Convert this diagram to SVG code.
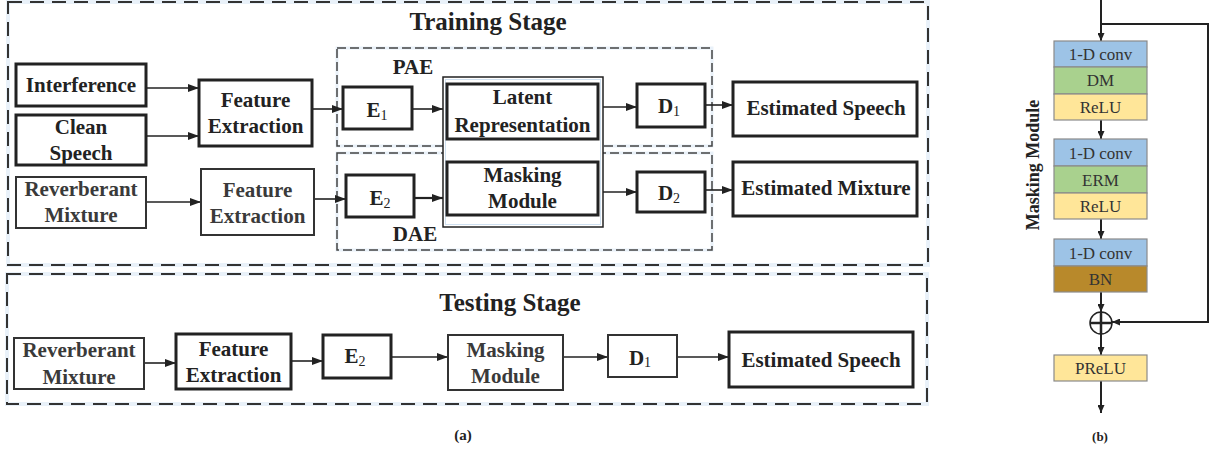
<svg xmlns="http://www.w3.org/2000/svg" width="1213" height="454" viewBox="0 0 1213 454">
<defs>
<marker id="arr" markerUnits="userSpaceOnUse" markerWidth="11" markerHeight="8" refX="11" refY="4" orient="auto"><path d="M0,0 L11,4 L0,8 z" fill="#222"/></marker>
<marker id="arrs" markerUnits="userSpaceOnUse" markerWidth="8" markerHeight="7" refX="8" refY="3.5" orient="auto"><path d="M0,0 L8,3.5 L0,7 z" fill="#222"/></marker>
<style>
.t{font-family:"Liberation Serif","Times New Roman",serif;font-weight:bold;fill:#222;text-anchor:middle}
.n{font-size:21px}
.g{fill:#3a3a3a}
.sub{font-size:14px;font-weight:normal}
.box{fill:#fff;stroke:#222;stroke-width:3}
.box2{fill:#fff;stroke:#333;stroke-width:2}
.glow{fill:none;stroke:#e9f1f9;stroke-width:4}
.dash{fill:none;stroke:#333;stroke-width:2;stroke-dasharray:14 8}
.dash2{fill:none;stroke:#444;stroke-width:1.5;stroke-dasharray:9 4}
.c{fill:none;stroke:#222;stroke-width:1.6}
.cs{fill:none;stroke:#222;stroke-width:2}
.blk{stroke:#8a8a8a;stroke-width:1.2}
.bt{font-family:"Liberation Serif","Times New Roman",serif;font-size:17px;fill:#333;text-anchor:middle}
</style>
</defs>
<rect width="1213" height="454" fill="#fff"/>

<g id="training-stage">
<rect class="glow" x="8" y="2" width="920" height="263"/>
<rect class="dash" x="8" y="2" width="920" height="263"/>
<text class="t" x="488" y="30" font-size="25">Training Stage</text>
</g>
<g id="testing-stage">
<rect class="glow" x="7" y="274" width="920" height="130"/>
<rect class="dash" x="7" y="274" width="920" height="130"/>
<text class="t" x="510" y="311" font-size="25">Testing Stage</text>
</g>
<g id="pae">
<rect class="glow" x="337" y="48" width="375" height="98" style="stroke-width:3"/>
<rect class="dash2" x="337" y="48" width="375" height="98"/>
<text class="t" x="413" y="74" font-size="21">PAE</text>
</g>
<g id="dae">
<rect class="glow" x="337" y="153" width="375" height="97" style="stroke-width:3"/>
<rect class="dash2" x="337" y="153" width="375" height="97"/>
<text class="t" x="415" y="241" font-size="21">DAE</text>
</g>

<g id="connectors">
<path class="c" d="M146,88 H199" marker-end="url(#arr)"/>
<path class="c" d="M146,136 H199" marker-end="url(#arr)"/>
<path class="c" d="M146,202 H201" marker-end="url(#arr)"/>
<path class="c" d="M312,109 H343" marker-end="url(#arr)"/>
<path class="c" d="M314,199 H346" marker-end="url(#arr)"/>
<path class="c" d="M412,109 H443" marker-end="url(#arr)"/>
<path class="c" d="M414,198 H443" style="stroke-width:2.2" marker-end="url(#arr)"/>
<path class="c" d="M603,107 H637" marker-end="url(#arr)"/>
<path class="c" d="M603,192 H637" marker-end="url(#arr)"/>
<path class="c" d="M705,105 H733" marker-end="url(#arr)"/>
<path class="c" d="M705,190 H733" marker-end="url(#arr)"/>
<path class="c" d="M144,363 H176" marker-end="url(#arr)"/>
<path class="c" d="M291,361 H323" marker-end="url(#arr)"/>
<path class="c" d="M391,357 H448" marker-end="url(#arr)"/>
<path class="c" d="M563,357 H608" marker-end="url(#arr)"/>
<path class="c" d="M677,357 H729" marker-end="url(#arr)"/>
<path class="cs" d="M1101,0 V41" marker-end="url(#arrs)"/>
<path class="cs" d="M1101,24 H1208 V322 H1112" marker-end="url(#arrs)"/>
<path class="cs" d="M1101,120 V139" marker-end="url(#arrs)"/>
<path class="cs" d="M1101,219 V239" marker-end="url(#arrs)"/>
<path class="cs" d="M1101,292 V312" marker-end="url(#arrs)"/>
<path class="cs" d="M1101,334 V355" marker-end="url(#arrs)"/>
<path class="cs" d="M1101,381 V413" marker-end="url(#arrs)"/>
</g>

<g id="interference"><rect class="box" x="16" y="64" width="130" height="42"/><text class="t n" x="81" y="92">Interference</text></g>
<g id="clean-speech"><rect class="box" x="16" y="115" width="130" height="50"/><text class="t n" x="81" y="134">Clean</text><text class="t n" x="81" y="160">Speech</text></g>
<g id="reverberant-mixture-train"><rect class="box2" x="16" y="177" width="130" height="51"/><text class="t n g" x="81" y="196">Reverberant</text><text class="t n g" x="81" y="222">Mixture</text></g>
<g id="feature-extraction-1"><rect class="box" x="199" y="80" width="113" height="66"/><text class="t n" x="255.5" y="107">Feature</text><text class="t n" x="255.5" y="133">Extraction</text></g>
<g id="feature-extraction-2"><rect class="box2" x="201" y="169" width="113" height="66"/><text class="t n g" x="257.5" y="197">Feature</text><text class="t n g" x="257.5" y="223">Extraction</text></g>
<g id="e1"><rect class="box" x="343" y="87" width="69" height="42"/><text class="t n" x="377" y="117">E<tspan class="sub" dy="3">1</tspan></text></g>
<g id="e2"><rect class="box" x="346" y="175" width="68" height="42"/><text class="t n" x="380" y="205">E<tspan class="sub" dy="3">2</tspan></text></g>
<g id="shared-block">
<rect x="443" y="77" width="160" height="150" fill="#fff" stroke="#222" stroke-width="1.5"/>
<rect x="445.5" y="79.5" width="155" height="145" fill="none" stroke="#cfe0f0" stroke-width="1"/>
</g>
<g id="latent-representation"><rect class="box" x="447" y="84" width="151" height="55"/><text class="t n" x="522.5" y="104">Latent</text><text class="t n" x="522.5" y="132">Representation</text></g>
<g id="masking-module-train"><rect class="box" x="447" y="162" width="151" height="53"/><text class="t n" x="522.5" y="182">Masking</text><text class="t n" x="522.5" y="208">Module</text></g>
<g id="d1"><rect class="box" x="637" y="84" width="68" height="43"/><text class="t n" x="669" y="113">D<tspan class="sub" dy="3">1</tspan></text></g>
<g id="d2"><rect class="box" x="637" y="172" width="68" height="40"/><text class="t n" x="669" y="200">D<tspan class="sub" dy="3">2</tspan></text></g>
<g id="estimated-speech-train"><rect class="box" x="733" y="82" width="184" height="54"/><text class="t n" x="826" y="115">Estimated Speech</text></g>
<g id="estimated-mixture"><rect class="box" x="733" y="162" width="184" height="54"/><text class="t n" x="826" y="195">Estimated Mixture</text></g>

<g id="reverberant-mixture-test"><rect class="box2" x="14" y="338" width="130" height="51"/><text class="t n g" x="79" y="357">Reverberant</text><text class="t n g" x="79" y="384">Mixture</text></g>
<g id="feature-extraction-test"><rect class="box" x="176" y="334" width="115" height="55"/><text class="t n" x="233.5" y="356">Feature</text><text class="t n" x="233.5" y="382">Extraction</text></g>
<g id="e2-test"><rect class="box" x="323" y="335" width="68" height="43"/><text class="t n" x="355" y="363">E<tspan class="sub" dy="3">2</tspan></text></g>
<g id="masking-module-test"><rect class="box2" x="448" y="335" width="115" height="55"/><text class="t n g" x="505.5" y="357">Masking</text><text class="t n g" x="505.5" y="383">Module</text></g>
<g id="d1-test"><rect class="box2" x="608" y="335" width="69" height="42"/><text class="t n" x="640" y="365">D<tspan class="sub" dy="2">1</tspan></text></g>
<g id="estimated-speech-test"><rect class="box" x="729" y="332" width="184" height="55"/><text class="t n" x="821" y="367">Estimated Speech</text></g>

<text class="t" x="463" y="440" font-size="15">(a)</text>

<g id="masking-module-detail">
<text class="t" x="0" y="0" font-size="18" transform="translate(1039,165) rotate(-90)">Masking Module</text>
<g id="block1">
<rect class="blk" x="1054" y="41" width="93" height="26" fill="#9dc3e6"/>
<rect class="blk" x="1054" y="67" width="93" height="27" fill="#a9d18e"/>
<rect class="blk" x="1054" y="94" width="93" height="26" fill="#ffe699"/>
<text class="bt" x="1100.5" y="60">1-D conv</text>
<text class="bt" x="1100.5" y="86">DM</text>
<text class="bt" x="1100.5" y="113">ReLU</text>
</g>
<g id="block2">
<rect class="blk" x="1054" y="139" width="93" height="27" fill="#9dc3e6"/>
<rect class="blk" x="1054" y="166" width="93" height="27" fill="#a9d18e"/>
<rect class="blk" x="1054" y="193" width="93" height="26" fill="#ffe699"/>
<text class="bt" x="1100.5" y="159">1-D conv</text>
<text class="bt" x="1100.5" y="186">ERM</text>
<text class="bt" x="1100.5" y="212">ReLU</text>
</g>
<g id="block3">
<rect class="blk" x="1054" y="239" width="93" height="27" fill="#9dc3e6"/>
<rect class="blk" x="1054" y="266" width="93" height="26" fill="#b8892b"/>
<text class="bt" x="1100.5" y="259">1-D conv</text>
<text class="bt" x="1100.5" y="285">BN</text>
</g>
<g id="sum">
<circle cx="1101" cy="323" r="11" fill="#fff" stroke="#222" stroke-width="1.5"/>
<path d="M1101,312 V334 M1090,323 H1112" stroke="#222" stroke-width="2.5" fill="none"/>
</g>
<g id="prelu">
<rect class="blk" x="1054" y="355" width="93" height="26" fill="#ffe699"/>
<text class="bt" x="1100.5" y="374">PReLU</text>
</g>
<text class="t" x="1100" y="441" font-size="13">(b)</text>
</g>
</svg>
